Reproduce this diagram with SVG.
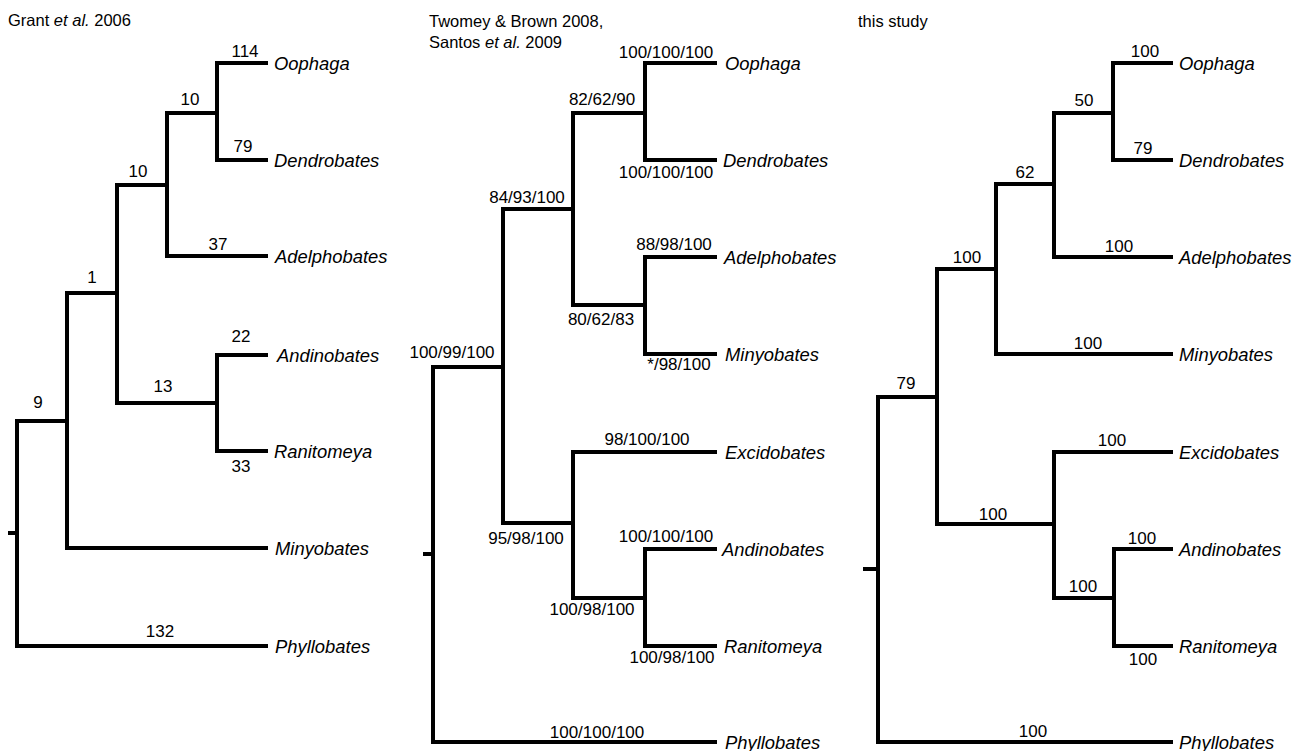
<svg xmlns="http://www.w3.org/2000/svg" width="1295" height="751" viewBox="0 0 1295 751">
<style>
.br{fill:none;stroke:#000;stroke-width:4;stroke-linejoin:miter;stroke-linecap:butt}
.t{font-family:"Liberation Sans",Arial,sans-serif;font-size:16.5px;fill:#000}
.n{font-family:"Liberation Sans",Arial,sans-serif;font-size:17px;fill:#000;text-anchor:middle}
.l{font-family:"Liberation Sans",Arial,sans-serif;font-size:18.4px;font-style:italic;fill:#000}
</style>
<rect width="1295" height="751" fill="#fff"/>
<g id="connectors">
<!-- tree 1 -->
<path class="br" d="M268,63 H217 V160 H268"/>
<path class="br" d="M217,113 H167 V256 H268"/>
<path class="br" d="M167,185 H117 V403 H217"/>
<path class="br" d="M268,355 H217 V451 H268"/>
<path class="br" d="M117,293 H67 V548 H268"/>
<path class="br" d="M67,421 H17 V646 H268"/>
<path class="br" d="M8,533 H17"/>
<!-- tree 2 -->
<path class="br" d="M717,63 H645 V160 H717"/>
<path class="br" d="M645,113 H573 V305 H645"/>
<path class="br" d="M717,257 H645 V354 H717"/>
<path class="br" d="M573,209 H503 V523 H573"/>
<path class="br" d="M717,452 H573 V598 H645"/>
<path class="br" d="M717,549 H645 V646 H717"/>
<path class="br" d="M503,367 H433 V742 H717"/>
<path class="br" d="M423,554 H433"/>
<!-- tree 3 -->
<path class="br" d="M1173,63 H1113 V160 H1173"/>
<path class="br" d="M1113,113 H1054 V257 H1173"/>
<path class="br" d="M1054,184 H996 V354 H1173"/>
<path class="br" d="M996,269 H937 V524 H1054"/>
<path class="br" d="M1173,452 H1054 V598 H1114"/>
<path class="br" d="M1173,549 H1114 V646 H1173"/>
<path class="br" d="M937,397 H878 V742 H1173"/>
<path class="br" d="M863,569 H878"/>
</g>
<g id="titles">
<text class="t" x="8" y="26">Grant <tspan font-style="italic">et al.</tspan> 2006</text>
<text class="t" x="429" y="27">Twomey &amp; Brown 2008,</text>
<text class="t" x="429" y="48">Santos <tspan font-style="italic">et al.</tspan> 2009</text>
<text class="t" x="858" y="27">this study</text>
</g>
<g id="tree1-labels">
<text class="n" x="245" y="57">114</text>
<text class="n" x="243" y="152">79</text>
<text class="n" x="190" y="105">10</text>
<text class="n" x="138" y="177">10</text>
<text class="n" x="218" y="250">37</text>
<text class="n" x="92" y="283">1</text>
<text class="n" x="241" y="342">22</text>
<text class="n" x="163" y="392">13</text>
<text class="n" x="241" y="472">33</text>
<text class="n" x="38" y="408">9</text>
<text class="n" x="160" y="637">132</text>
</g>
<g id="tree1-leaves">
<text class="l" x="274" y="70">Oophaga</text>
<text class="l" x="274" y="167">Dendrobates</text>
<text class="l" x="275" y="263">Adelphobates</text>
<text class="l" x="277" y="362">Andinobates</text>
<text class="l" x="274" y="458">Ranitomeya</text>
<text class="l" x="275" y="555">Minyobates</text>
<text class="l" x="275" y="653">Phyllobates</text>
</g>
<g id="tree2-labels">
<text class="n" x="666" y="58">100/100/100</text>
<text class="n" x="602" y="105">82/62/90</text>
<text class="n" x="666" y="178">100/100/100</text>
<text class="n" x="527" y="203">84/93/100</text>
<text class="n" x="674" y="250">88/98/100</text>
<text class="n" x="601" y="325">80/62/83</text>
<text class="n" x="679" y="370">*/98/100</text>
<text class="n" x="452" y="358">100/99/100</text>
<text class="n" x="647" y="445">98/100/100</text>
<text class="n" x="526" y="544">95/98/100</text>
<text class="n" x="666" y="542">100/100/100</text>
<text class="n" x="592" y="615">100/98/100</text>
<text class="n" x="672" y="663">100/98/100</text>
<text class="n" x="597" y="738">100/100/100</text>
</g>
<g id="tree2-leaves">
<text class="l" x="725" y="70">Oophaga</text>
<text class="l" x="723" y="167">Dendrobates</text>
<text class="l" x="724" y="264">Adelphobates</text>
<text class="l" x="725" y="361">Minyobates</text>
<text class="l" x="725" y="459">Excidobates</text>
<text class="l" x="722" y="556">Andinobates</text>
<text class="l" x="724" y="653">Ranitomeya</text>
<text class="l" x="725" y="749">Phyllobates</text>
</g>
<g id="tree3-labels">
<text class="n" x="1145" y="57">100</text>
<text class="n" x="1084" y="106">50</text>
<text class="n" x="1143" y="154">79</text>
<text class="n" x="1025" y="178">62</text>
<text class="n" x="1119" y="252">100</text>
<text class="n" x="967" y="263">100</text>
<text class="n" x="1088" y="349">100</text>
<text class="n" x="906" y="389">79</text>
<text class="n" x="1112" y="446">100</text>
<text class="n" x="993" y="520">100</text>
<text class="n" x="1142" y="544">100</text>
<text class="n" x="1083" y="592">100</text>
<text class="n" x="1143" y="665">100</text>
<text class="n" x="1033" y="737">100</text>
</g>
<g id="tree3-leaves">
<text class="l" x="1179" y="70">Oophaga</text>
<text class="l" x="1179" y="167">Dendrobates</text>
<text class="l" x="1179" y="264">Adelphobates</text>
<text class="l" x="1179" y="361">Minyobates</text>
<text class="l" x="1179" y="459">Excidobates</text>
<text class="l" x="1179" y="556">Andinobates</text>
<text class="l" x="1179" y="653">Ranitomeya</text>
<text class="l" x="1179" y="749">Phyllobates</text>
</g>
</svg>
